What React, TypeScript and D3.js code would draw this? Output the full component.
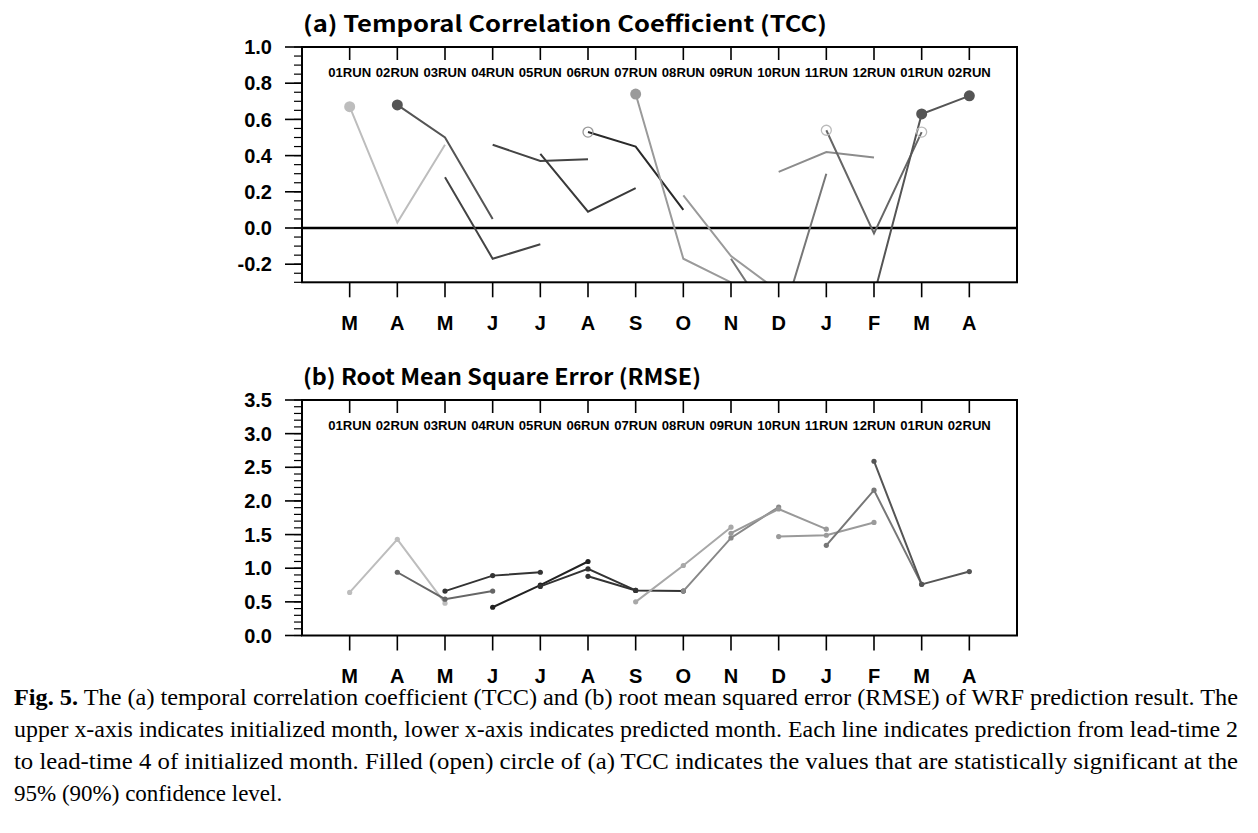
import React from 'react';
import * as d3 from 'd3';

const months = ['M', 'A', 'M', 'J', 'J', 'A', 'S', 'O', 'N', 'D', 'J', 'F', 'M', 'A'];
const runLabels = ['01RUN', '02RUN', '03RUN', '04RUN', '05RUN', '06RUN', '07RUN', '08RUN', '09RUN', '10RUN', '11RUN', '12RUN', '01RUN', '02RUN'];

// TCC per run (lead-time 2..4), run i starts at month index i
const tccByRun = [
  [0.67, 0.03, 0.46],
  [0.68, 0.5, 0.05],
  [0.28, -0.17, -0.09],
  [0.46, 0.37, 0.38],
  [0.41, 0.09, 0.22],
  [0.53, 0.45, 0.1],
  [0.74, -0.17, -0.3],
  [0.18, -0.155, -0.35],
  [-0.17, -0.57, 0.3],
  [0.31, 0.42, 0.39],
  [0.54, -0.03, 0.53],
  [-0.37, 0.63, 0.73],
];
const tccGray = ['#bdbdbd', '#555', '#444', '#444', '#3a3a3a', '#2a2a2a', '#9a9a9a', '#9a9a9a', '#777', '#8c8c8c', '#666', '#555'];
// significance markers: run index, lead index, filled
const tccMarkRun = [0, 1, 5, 6, 10, 10, 11, 11];
const tccMarkLead = [0, 0, 0, 0, 0, 2, 1, 2];
const tccMarkFilled = [true, true, false, true, false, false, true, true];
const tccMarkColor = ['#bdbdbd', '#555', '#999', '#9a9a9a', '#bbb', '#bbb', '#555', '#555'];

// RMSE per run
const rmseByRun = [
  [0.64, 1.43, 0.48],
  [0.94, 0.54, 0.66],
  [0.66, 0.89, 0.94],
  [0.42, 0.75, 1.1],
  [0.73, 0.99, 0.67],
  [0.88, 0.67, 0.66],
  [0.5, 1.04, 1.61],
  [0.66, 1.45, 1.91],
  [1.52, 1.88, 1.58],
  [1.47, 1.49, 1.68],
  [1.34, 2.16, 0.76],
  [2.59, 0.76, 0.95],
];
const rmseGray = ['#bdbdbd', '#666', '#333', '#222', '#333', '#333', '#a8a8a8', '#888', '#999', '#9a9a9a', '#777', '#555'];

const tccTicks = [-0.2, 0, 0.2, 0.4, 0.6, 0.8, 1.0];
const rmseTicks = [0, 0.5, 1.0, 1.5, 2.0, 2.5, 3.0, 3.5];

const captionLines = [
  'The (a) temporal correlation coefficient (TCC) and (b) root mean squared error (RMSE) of WRF prediction result. The',
  'upper x-axis indicates initialized month, lower x-axis indicates predicted month. Each line indicates prediction from lead-time 2',
  'to lead-time 4 of initialized month. Filled (open) circle of (a) TCC indicates the values that are statistically significant at the',
  '95% (90%) confidence level.',
];

const X0 = 302;
const X1 = 1017;
const xScale = d3.scaleLinear().domain([-1, 14]).range([X0, X1]);
const axisFont = '"Liberation Sans", Arial, sans-serif';

type PanelProps = {
  id: string;
  top: number;
  bottom: number;
  domain: [number, number];
  majors: number[];
  minorStep: number;
  data: number[][];
  colors: string[];
  title: string;
  titleLen: number;
  dots: boolean;
  zeroLine: boolean;
};

function Panel(p: PanelProps) {
  const y = d3.scaleLinear().domain(p.domain).range([p.bottom, p.top]);
  const minors = d3.range(p.domain[0], p.domain[1] + 1e-6, p.minorStep);
  const fmt = (v: number) => d3.format('.1f')(v).replace('\u2212', '-');
  const line = d3
    .line<[number, number]>()
    .x((d) => xScale(d[0]))
    .y((d) => y(d[1]));
  return (
    <g>
      <defs>
        <clipPath id={'clip-' + p.id}>
          <rect x={X0} y={p.top} width={X1 - X0} height={p.bottom - p.top} />
        </clipPath>
      </defs>
      <text
        x={X0 + 1}
        y={p.top - 15}
        fontFamily='"Noto Sans CJK KR", "Noto Sans", sans-serif'
        fontWeight="bold"
        fontSize={22}
        textLength={p.titleLen}
        lengthAdjust="spacingAndGlyphs"
      >
        {p.title}
      </text>
      {/* minor ticks */}
      {minors.map((v, i) => (
        <line key={'mi' + i} x1={X0 - 8} x2={X0} y1={y(v)} y2={y(v)} stroke="#000" strokeWidth={1.2} />
      ))}
      {p.majors.map((v, i) => (
        <g key={'ma' + i}>
          <line x1={X0 - 17} x2={X0} y1={y(v)} y2={y(v)} stroke="#000" strokeWidth={1.6} />
          <text
            x={272}
            y={y(v)}
            dy="0.36em"
            textAnchor="end"
            fontFamily={axisFont}
            fontWeight="bold"
            fontSize={20}
          >
            {fmt(v)}
          </text>
        </g>
      ))}
      {/* month ticks */}
      {months.map((m, i) => (
        <g key={'mt' + i}>
          <line x1={xScale(i)} x2={xScale(i)} y1={p.top} y2={p.top + 13} stroke="#000" strokeWidth={1.6} />
          <line x1={xScale(i)} x2={xScale(i)} y1={p.bottom} y2={p.bottom + 15} stroke="#000" strokeWidth={1.6} />
          <text
            x={xScale(i)}
            y={p.bottom + 40}
            dy="0.36em"
            textAnchor="middle"
            fontFamily={axisFont}
            fontWeight="bold"
            fontSize={20}
          >
            {m}
          </text>
          <text
            x={xScale(i)}
            y={p.top + 25}
            dy="0.36em"
            textAnchor="middle"
            fontFamily={axisFont}
            fontWeight="bold"
            fontSize={13}
            textLength={43}
            lengthAdjust="spacingAndGlyphs"
          >
            {runLabels[i]}
          </text>
        </g>
      ))}
      {p.zeroLine && (
        <line x1={X0} x2={X1} y1={y(0)} y2={y(0)} stroke="#000" strokeWidth={2.5} />
      )}
      <g clipPath={`url(#clip-${p.id})`}>
        {p.data.map((vals, r) => {
          const pts: [number, number][] = vals.map((v, k) => [r + k, v]);
          return (
            <g key={'run' + r}>
              <path d={line(pts) || ''} fill="none" stroke={p.colors[r]} strokeWidth={2} />
              {p.dots &&
                pts.map((pt, k) => (
                  <circle key={k} cx={xScale(pt[0])} cy={y(pt[1])} r={2.6} fill={p.colors[r]} />
                ))}
            </g>
          );
        })}
        {p.zeroLine &&
          tccMarkRun.map((r, i) => {
            const k = tccMarkLead[i];
            const cx = xScale(r + k);
            const cy = y(p.data[r][k]);
            return tccMarkFilled[i] ? (
              <circle key={'mk' + i} cx={cx} cy={cy} r={5.5} fill={tccMarkColor[i]} />
            ) : (
              <circle key={'mk' + i} cx={cx} cy={cy} r={5} fill="none" stroke={tccMarkColor[i]} strokeWidth={1.3} />
            );
          })}
      </g>
      <rect x={X0} y={p.top} width={X1 - X0} height={p.bottom - p.top} fill="none" stroke="#000" strokeWidth={2} />
    </g>
  );
}

export default function App() {
  return (
    <svg
      width={1258}
      height={833}
      style={{ position: 'absolute', left: 0, top: 0, background: '#fff' }}
    >
      <rect x={0} y={0} width={1258} height={833} fill="#fff" />
      <Panel
        id="tcc"
        top={47}
        bottom={282.3}
        domain={[-0.3, 1.0]}
        majors={tccTicks}
        minorStep={0.05}
        data={tccByRun}
        colors={tccGray}
        title="(a) Temporal Correlation Coefficient (TCC)"
        titleLen={524}
        dots={false}
        zeroLine={true}
      />
      <Panel
        id="rmse"
        top={400}
        bottom={635.5}
        domain={[0, 3.5]}
        majors={rmseTicks}
        minorStep={0.1}
        data={rmseByRun}
        colors={rmseGray}
        title="(b) Root Mean Square Error (RMSE)"
        titleLen={398}
        dots={true}
        zeroLine={false}
      />
      <g fontFamily='"Liberation Serif", "Times New Roman", serif' fontSize={23}>
        <text x={14} y={705} textLength={1224} lengthAdjust="spacingAndGlyphs">
          <tspan fontWeight="bold">Fig. 5.</tspan> {captionLines[0]}
        </text>
        <text x={14} y={737} textLength={1224} lengthAdjust="spacingAndGlyphs">
          {captionLines[1]}
        </text>
        <text x={14} y={769} textLength={1224} lengthAdjust="spacingAndGlyphs">
          {captionLines[2]}
        </text>
        <text x={14} y={801}>
          {captionLines[3]}
        </text>
      </g>
    </svg>
  );
}
